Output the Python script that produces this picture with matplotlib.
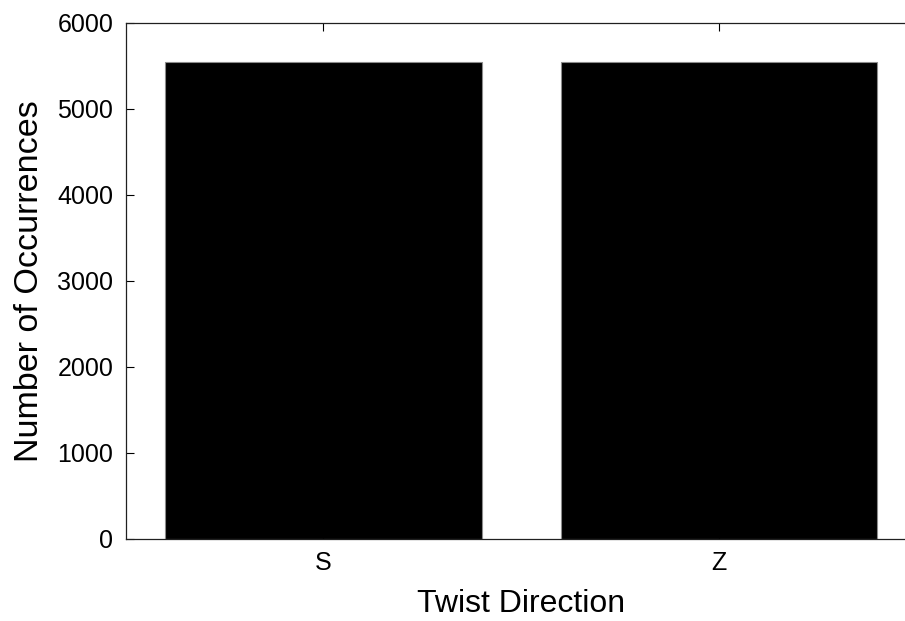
import matplotlib.pyplot as plt

# twist direction counts
directions = ['S', 'Z']
counts = [5546, 5546]
positions = [1, 2]

plt.rcParams['font.family'] = ['Liberation Sans', 'DejaVu Sans']

fig = plt.figure(figsize=(9.05, 6.21), dpi=100)
# axes box runs a little past the right edge of the figure
ax = fig.add_axes([0.1389, 0.1325, 0.8742, 0.8309])

ax.bar(positions, counts, width=0.8, color='black', edgecolor='#8c8c8c', linewidth=0.8)

ax.set_xlim(0.5, 2.5)
ax.set_ylim(0, 6000)
ax.set_xticks(positions)
ax.set_xticklabels(directions)
ax.set_yticks(range(0, 6001, 1000))

ax.tick_params(direction='in', length=5.8, width=0.8, labelsize=18,
               top=True, right=True, pad=9, colors='black')
for s in ax.spines.values():
    s.set_linewidth(0.9)
    s.set_color('#202020')

ax.set_xlabel('Twist Direction', fontsize=23, labelpad=10)
ax.set_ylabel('Number of Occurrences', fontsize=24.5, labelpad=9)

fig.savefig('out.png', dpi=100)
